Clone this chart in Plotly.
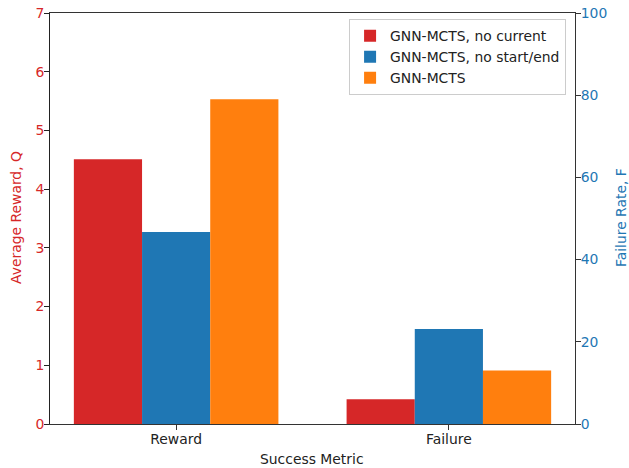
import plotly.graph_objects as go

categories = ["Reward", "Failure"]
series_names = ["GNN-MCTS, no current", "GNN-MCTS, no start/end", "GNN-MCTS"]
series_colors = ["#d62728", "#1f77b4", "#ff7f0e"]
reward_values = [4.51, 3.27, 5.53]      # Average Reward, Q (left axis)
failure_values = [6.0, 23.1, 13.0]      # Failure Rate, F (right axis)

bar_width = 0.25
n = len(series_names)
FS = 13.9
font = dict(family="DejaVu Sans", size=FS, color="#222")

W, H = 629, 468
L, T, R, B = 50, 13, 54, 44
pw, ph = W - L - R, H - T - B

def px_to_paper_x(wx):
    return (wx - L) / pw

def px_to_paper_y(wy):
    return (H - B - wy) / ph

fig = go.Figure()
for i, name in enumerate(series_names):
    off = (i - (n - 1) / 2) * bar_width - bar_width / 2
    fig.add_trace(go.Bar(
        x=[categories[0]], y=[reward_values[i]], name=name,
        marker=dict(color=series_colors[i], line=dict(width=0)),
        width=bar_width, offset=off, yaxis="y", legendgroup=name, showlegend=True,
    ))
    fig.add_trace(go.Bar(
        x=[categories[1]], y=[failure_values[i]], name=name,
        marker=dict(color=series_colors[i], line=dict(width=0)),
        width=bar_width, offset=off, yaxis="y2", legendgroup=name, showlegend=False,
    ))

fig.update_layout(
    width=W, height=H,
    margin=dict(l=L, r=R, t=T, b=B, autoexpand=False),
    paper_bgcolor="white", plot_bgcolor="white",
    font=font,
    barmode="overlay",
    showlegend=True,
    legend=dict(x=0.983, y=0.985, xanchor="right", yanchor="top",
                bgcolor="rgba(255,255,255,0.8)", bordercolor="#cccccc", borderwidth=1,
                font=dict(family="DejaVu Sans", size=FS, color="#222"),
                tracegroupgap=0, itemwidth=30),
    xaxis=dict(
        type="category", categoryorder="array", categoryarray=categories,
        range=[-0.4625, 1.4625], automargin=False,
        showline=True, linecolor="#333", linewidth=1, mirror=True,
        ticks="outside", ticklen=5, tickcolor="#333", ticklabelstandoff=-3,
        showgrid=False, zeroline=False,
        tickfont=dict(size=FS, color="#222"),
    ),
    yaxis=dict(
        range=[0, 7], dtick=1, automargin=False,
        showline=True, linecolor="#222", linewidth=1,
        ticks="outside", ticklen=5, tickcolor="#222", ticklabelstandoff=-3,
        showgrid=False, zeroline=False,
        tickfont=dict(size=FS, color="#d62728"),
    ),
    yaxis2=dict(
        range=[0, 100], dtick=20, overlaying="y", side="right", automargin=False,
        showline=True, linecolor="#333", linewidth=1,
        ticks="outside", ticklen=5, tickcolor="#333", ticklabelstandoff=-3,
        showgrid=False, zeroline=False,
        tickfont=dict(size=FS, color="#1f77b4"),
    ),
    annotations=[
        dict(text="Success Metric", xref="paper", yref="paper",
             x=px_to_paper_x(312), y=px_to_paper_y(459),
             xanchor="center", yanchor="middle", showarrow=False,
             font=dict(size=FS, color="#222")),
        dict(text="Average Reward, Q", xref="paper", yref="paper",
             x=px_to_paper_x(16), y=px_to_paper_y(218),
             xanchor="center", yanchor="middle", textangle=-90, showarrow=False,
             font=dict(size=FS, color="#d62728")),
        dict(text="Failure Rate, F", xref="paper", yref="paper",
             x=px_to_paper_x(621), y=px_to_paper_y(218),
             xanchor="center", yanchor="middle", textangle=-90, showarrow=False,
             font=dict(size=FS, color="#1f77b4")),
    ],
)

fig.write_html(
    "out.html",
    config={"displayModeBar": False},
    post_script="document.body.style.margin='0';document.body.style.overflow='hidden';",
)
